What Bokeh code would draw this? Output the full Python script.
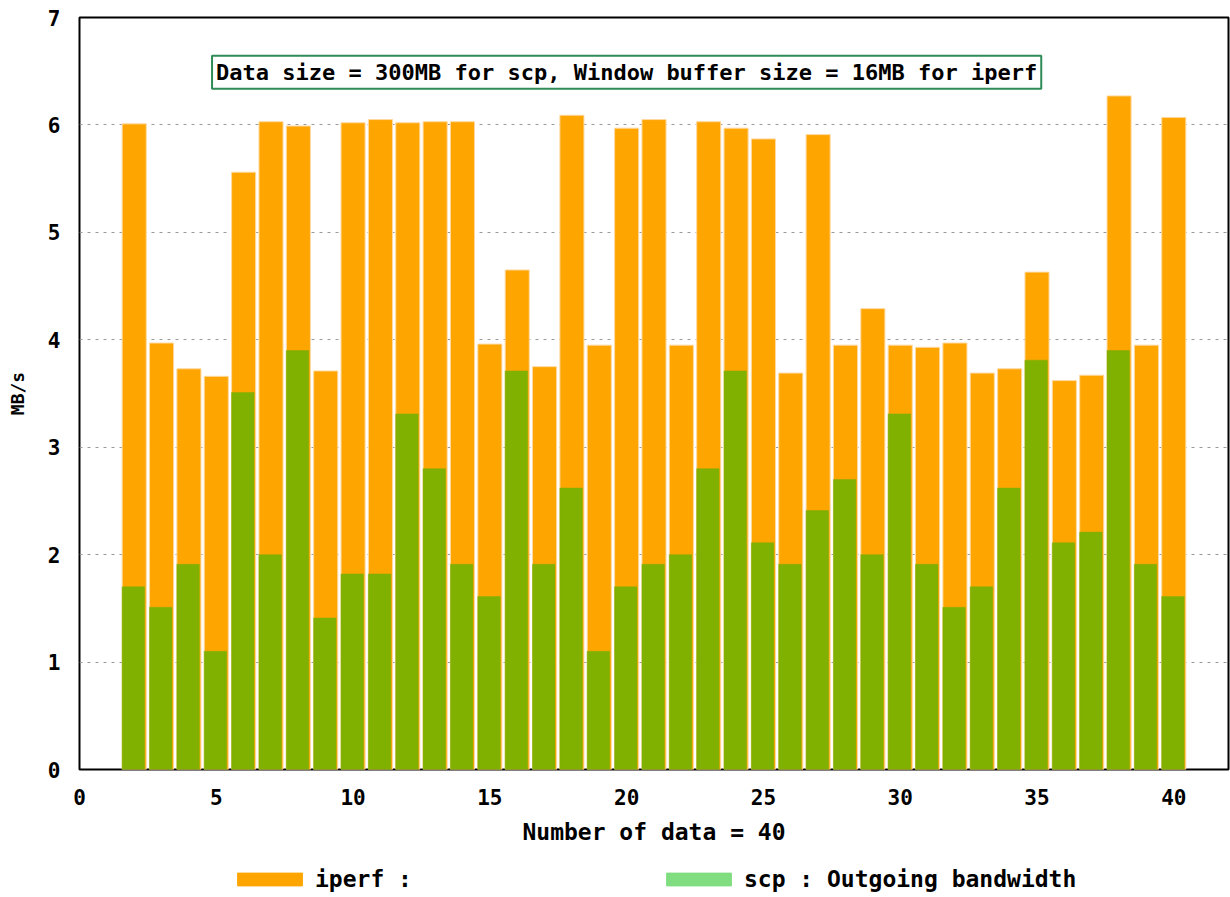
from bokeh.plotting import figure
from bokeh.models import (ColumnDataSource, Range1d, FixedTicker, Label, Legend,
                          LegendItem)
from bokeh.layouts import column
from bokeh.transform import dodge
from bokeh.embed import file_html
from bokeh.resources import INLINE

# ---- data ----
index = list(range(2, 41))
iperf = [6.01, 3.97, 3.73, 3.66, 5.56, 6.03, 5.99, 3.71, 6.02, 6.05,
         6.02, 6.03, 6.03, 3.96, 4.65, 3.75, 6.09, 3.95, 5.97, 6.05,
         3.95, 6.03, 5.97, 5.87, 3.69, 5.91, 3.95, 4.29, 3.95, 3.93,
         3.97, 3.69, 3.73, 4.63, 3.62, 3.67, 6.27, 3.95, 6.07]
scp = [1.70, 1.51, 1.91, 1.10, 3.51, 2.00, 3.90, 1.41, 1.82, 1.82,
       3.31, 2.80, 1.91, 1.61, 3.71, 1.91, 2.62, 1.10, 1.70, 1.91,
       2.00, 2.80, 3.71, 2.11, 1.91, 2.41, 2.70, 2.00, 3.31, 1.91,
       1.51, 1.70, 2.62, 3.81, 2.11, 2.21, 3.90, 1.91, 1.61]
x_ticks = [0, 5, 10, 15, 20, 25, 30, 35, 40]
y_ticks = [0, 1, 2, 3, 4, 5, 6, 7]
title_text = "Data size = 300MB for scp, Window buffer size = 16MB for iperf"
x_label = "Number of data = 40"
y_label = "MB/s"
legend_labels = ["iperf :", "scp : Outgoing bandwidth"]

FONT = "DejaVu Sans Mono"
ORANGE = "#FFA500"
GREEN = "#80B000"
LEG_GREEN = "#80DD80"

src = ColumnDataSource(dict(x=index, iperf=iperf, scp=scp))

p = figure(width=1230, height=847, output_backend="svg", toolbar_location=None,
           x_range=Range1d(0, 42), y_range=Range1d(0, 7),
           min_border_left=79, min_border_right=2, min_border_top=17,
           min_border_bottom=78)
p.background_fill_color = "white"
p.outline_line_color = "black"
p.outline_line_width = 2

p.vbar(x="x", top="iperf", bottom=0, width=0.88, source=src,
       fill_color=ORANGE, line_color="#FFD9A0", line_width=1)
p.vbar(x=dodge("x", -0.03, range=p.x_range), top="scp", bottom=0,
       width=0.82, source=src, fill_color=GREEN, line_color=GREEN,
       line_width=0.5)

# axes
p.xaxis.ticker = FixedTicker(ticks=x_ticks)
p.yaxis.ticker = FixedTicker(ticks=y_ticks)
for ax in (p.xaxis[0], p.yaxis[0]):
    ax.axis_line_color = None
    ax.major_tick_line_color = None
    ax.minor_tick_line_color = None
    ax.major_label_text_font = FONT
    ax.major_label_text_font_style = "bold"
    ax.major_label_text_color = "black"
    ax.axis_label_text_font = FONT
    ax.axis_label_text_font_style = "bold"
    ax.axis_label_text_color = "black"
p.xaxis.major_label_text_font_size = "21px"
p.yaxis.major_label_text_font_size = "21px"
p.xaxis.major_label_standoff = 13
p.yaxis.major_label_standoff = 13
p.xaxis.axis_label = x_label
p.xaxis.axis_label_text_font_size = "23px"
p.xaxis.axis_label_standoff = 11
p.yaxis.axis_label = y_label
p.yaxis.axis_label_text_font_size = "18px"
p.yaxis.axis_label_standoff = 17

p.xgrid.grid_line_color = None
p.ygrid.grid_line_color = "#999999"
p.ygrid.grid_line_dash = "3 5"
p.ygrid.grid_line_width = 1

# annotation box
lab = Label(x=20, y=6.49, text=title_text, text_align="center",
            text_baseline="middle", text_font=FONT, text_font_style="bold",
            text_font_size="22px", text_color="black",
            border_line_color="#2E8B57", border_line_width=2,
            background_fill_color="white", padding=4)
p.add_layout(lab)

# ---- legend strip below the chart ----
lg = figure(width=1230, height=50, output_backend="svg", toolbar_location=None,
            x_range=Range1d(0, 1), y_range=Range1d(0, 1),
            x_axis_location=None, y_axis_location=None,
            min_border_left=0, min_border_right=0, min_border_top=0,
            min_border_bottom=0)
lg.outline_line_color = None
lg.border_fill_color = "white"
lg.background_fill_color = "white"
lg.xgrid.visible = False
lg.ygrid.visible = False
try:
    lg.frame_align = False
    leg_x = 229
except Exception:
    leg_x = 150

# legend-only swatches (placed far outside the strip's ranges)
sw_iperf = lg.vbar(x=[-50], top=[-50], bottom=-60, width=0.1,
                   fill_color=ORANGE, line_color=ORANGE)
sw_scp = lg.vbar(x=[-50], top=[-50], bottom=-60, width=0.1,
                 fill_color=LEG_GREEN, line_color=LEG_GREEN)

legend = Legend(items=[LegendItem(label=legend_labels[0], renderers=[sw_iperf]),
                       LegendItem(label=legend_labels[1], renderers=[sw_scp])],
                orientation="horizontal", location=(leg_x, 5),
                glyph_width=81, glyph_height=16, label_standoff=5,
                spacing=246, padding=0, margin=0,
                border_line_color=None, background_fill_alpha=0,
                label_text_font=FONT, label_text_font_style="bold",
                label_text_font_size="23px", label_text_color="black")
lg.add_layout(legend)

layout = column(p, lg, spacing=0)
open("out.html", "w").write(file_html(layout, INLINE))
